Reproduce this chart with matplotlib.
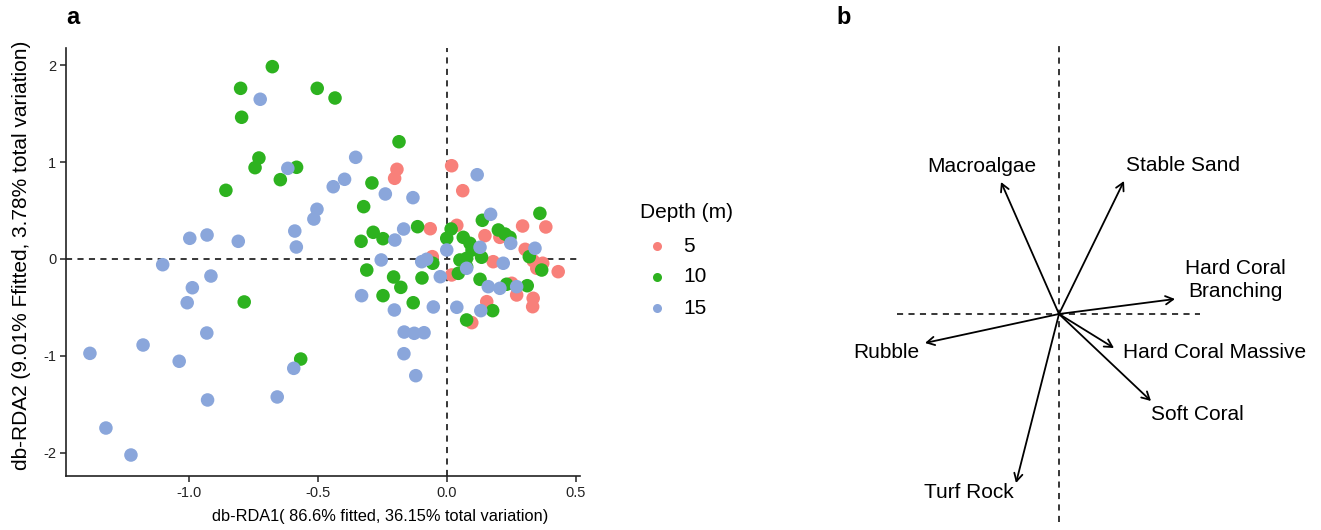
import matplotlib
matplotlib.use("Agg")
import matplotlib.pyplot as plt

plt.rcParams['font.family'] = ['Liberation Sans', 'DejaVu Sans']

W, H = 1321, 530

# ---------------- data: panel a (site scores) ----------------
depth_levels = ["5", "10", "15"]
depth_colors = ["#F8807A", "#2DB21F", "#8AA6DB"]

x_5 = [-0.194, -0.203, -0.065, -0.057, 0.018, 0.061, 0.038, 0.293, 0.383, 0.147,
       0.205, 0.303, 0.334, 0.371, 0.431, 0.179, 0.018, 0.348, 0.251, 0.270,
       0.334, 0.332, 0.154, 0.096]
y_5 = [0.927, 0.834, 0.313, 0.024, 0.964, 0.706, 0.348, 0.341, 0.331, 0.241,
       0.224, 0.100, -0.018, -0.044, -0.131, -0.028, -0.165, -0.096, -0.251, -0.372,
       -0.406, -0.493, -0.441, -0.658]

x_10 = [-0.677, -0.800, -0.503, -0.796, -0.729, -0.744, -0.583, -0.646, -0.857, -0.786,
        -0.567, -0.434, -0.186, -0.291, -0.323, -0.114, -0.286, -0.248, -0.333, -0.055,
        -0.311, -0.207, -0.097, -0.179, -0.248, -0.131, 0.360, 0.137, 0.016, -0.001,
        0.063, 0.199, 0.225, 0.244, 0.089, 0.319, 0.050, 0.076, 0.134, 0.367,
        0.044, 0.076, 0.128, 0.231, 0.311, 0.177, 0.076, 0.097]
y_10 = [1.988, 1.764, 1.764, 1.465, 1.044, 0.944, 0.948, 0.820, 0.710, -0.444,
        -1.034, 1.664, 1.212, 0.786, 0.541, 0.334, 0.276, 0.210, 0.183, -0.044,
        -0.114, -0.186, -0.196, -0.293, -0.379, -0.452, 0.472, 0.400, 0.310, 0.214,
        0.224, 0.300, 0.258, 0.224, 0.162, 0.024, -0.010, 0.007, 0.018, -0.114,
        -0.148, -0.080, -0.210, -0.261, -0.276, -0.534, -0.630, 0.093]

x_15 = [-0.724, -0.617, -0.504, -0.516, -0.590, -0.997, -0.930, -0.809, -0.584, -1.102,
        -0.915, -0.987, -1.007, -0.931, -1.178, -1.384, -1.038, -0.594, -0.928, -0.658,
        -1.322, -1.225, -0.354, -0.397, -0.441, -0.239, -0.132, -0.168, -0.202, -0.255,
        -0.098, -0.079, -0.001, -0.026, -0.331, -0.204, -0.053, -0.166, -0.127, -0.089,
        -0.167, -0.121, 0.117, 0.169, 0.247, 0.128, 0.341, 0.218, 0.076, 0.160,
        0.205, 0.270, 0.038, 0.131]
y_15 = [1.651, 0.937, 0.514, 0.413, 0.289, 0.214, 0.248, 0.183, 0.124, -0.059,
        -0.176, -0.297, -0.452, -0.765, -0.889, -0.975, -1.057, -1.130, -1.457, -1.426,
        -1.747, -2.026, 1.051, 0.824, 0.747, 0.672, 0.634, 0.310, 0.196, -0.010,
        -0.028, -0.003, 0.093, -0.183, -0.379, -0.527, -0.496, -0.755, -0.768, -0.762,
        -0.979, -1.206, 0.871, 0.462, 0.162, 0.121, 0.111, -0.044, -0.096, -0.286,
        -0.303, -0.286, -0.499, -0.534]

x_ticks = [-1.0, -0.5, 0.0, 0.5]
x_tick_labels = ["-1.0", "-0.5", "0.0", "0.5"]
y_ticks = [-2, -1, 0, 1, 2]
y_tick_labels = ["-2", "-1", "0", "1", "2"]

x_title = "db-RDA1( 86.6% fitted, 36.15% total variation)"
y_title = "db-RDA2 (9.01% Ffitted, 3.78% total variation)"
legend_title = "Depth (m)"

# ---------------- data: panel b (environmental vectors) ----------------
env_names = ["Macroalgae", "Stable Sand", "Hard Coral\nBranching", "Hard Coral Massive",
             "Soft Coral", "Turf Rock", "Rubble"]
env_dx = [-0.58, 0.65, 1.16, 0.55, 0.92, -0.43, -1.34]
env_dy = [1.32, 1.33, 0.15, -0.34, -0.87, -1.69, -0.29]


def fx(px):
    return px / W


def fy(py):
    return 1 - py / H


fig = plt.figure(figsize=(W / 100, H / 100), dpi=100)

# ---------------- panel a ----------------
ax = fig.add_axes([fx(66), fy(476), (580 - 66) / W, (476 - 48) / H])
ax.set_xlim((66 - 447) / 258, (580 - 447) / 258)
ax.set_ylim((259 - 476) / 96.75, (259 - 48) / 96.75)

ax.axhline(0, color="black", lw=1.1, ls=(0, (4, 3.5)), zorder=1)
ax.axvline(0, color="black", lw=1.1, ls=(0, (4, 3.5)), zorder=1)

series = [(x_5, y_5), (x_10, y_10), (x_15, y_15)]
for (xs, ys), col in zip(series, depth_colors):
    ax.scatter(xs, ys, s=95, color=col, edgecolors="none", zorder=3)

for side in ["top", "right"]:
    ax.spines[side].set_visible(False)
for side in ["left", "bottom"]:
    ax.spines[side].set_color("#222222")
    ax.spines[side].set_linewidth(1.2)
ax.set_xticks(x_ticks)
ax.set_xticklabels(x_tick_labels)
ax.set_yticks(y_ticks)
ax.set_yticklabels(y_tick_labels)
ax.tick_params(axis="both", direction="out", length=4, width=1.2, color="#333333",
               labelsize=10.5, labelcolor="#222222", pad=3)

fig.text(fx(380), fy(517), x_title, ha="center", va="center", fontsize=11.8)
fig.text(fx(22), fy(255), y_title, ha="center", va="center", rotation=90, fontsize=15)
fig.text(fx(73), fy(18), "a", ha="center", va="center", fontsize=17, fontweight="bold")

# legend (manual, positioned like the reference)
fig.text(fx(640), fy(213), legend_title, ha="left", va="center", fontsize=15)
for i, (lab, col) in enumerate(zip(depth_levels, depth_colors)):
    yy = fy(246 + 31 * i)
    fig.lines.append(plt.Line2D([fx(657)], [yy], transform=fig.transFigure, marker="o",
                                markersize=6.5, color=col, markeredgecolor="none", ls=""))
    fig.text(fx(683), yy, lab, ha="left", va="center", fontsize=15)

# ---------------- panel b ----------------
bx = fig.add_axes([fx(840), fy(525), (1320 - 840) / W, (525 - 40) / H])
bx.set_xlim((840 - 1059) / 100, (1320 - 1059) / 100)
bx.set_ylim((314 - 525) / 100, (314 - 40) / 100)
bx.axis("off")
bx.plot([0, 0], [(314 - 522) / 100, (314 - 45) / 100], color="black", lw=1.1,
        ls=(0, (4, 3.5)))
bx.plot([(897 - 1059) / 100, (1200 - 1059) / 100], [0, 0], color="black", lw=1.1,
        ls=(0, (4, 3.5)))
for dx, dy in zip(env_dx, env_dy):
    bx.annotate("", xy=(dx, dy), xytext=(0, 0),
                arrowprops=dict(arrowstyle="->,head_length=0.55,head_width=0.3",
                                color="black", lw=1.3, shrinkA=0, shrinkB=0))

label_pos = [(982, 167), (1183, 166), (1235, 280), (1215, 352),
             (1197, 414), (969, 492), (886, 353)]
for name, (px, py) in zip(env_names, label_pos):
    fig.text(fx(px), fy(py), name, ha="center", va="center", fontsize=15, linespacing=1.25)

fig.text(fx(844), fy(18), "b", ha="center", va="center", fontsize=17, fontweight="bold")

fig.savefig("out.png", dpi=100)
